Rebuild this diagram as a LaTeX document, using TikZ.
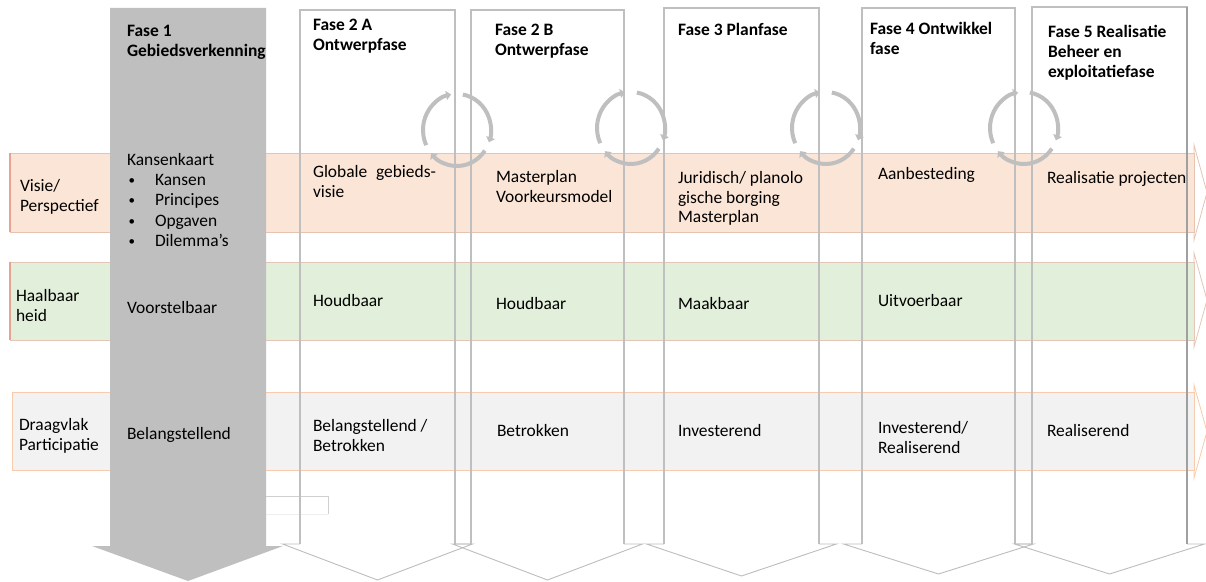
\documentclass[tikz,border=0pt]{standalone}
\usepackage{fontspec}
\setmainfont{Carlito}
\usetikzlibrary{arrows.meta}
\definecolor{phasegray}{HTML}{BFBFBF}
\definecolor{phasedark}{HTML}{A0A0A0}
\definecolor{headgray}{HTML}{BDBDBD}
\definecolor{pinkfill}{HTML}{FBE5D6}
\definecolor{pinkline}{HTML}{E6C4B2}
\definecolor{greenfill}{HTML}{E2EFDA}
\definecolor{greenline}{HTML}{E3C6B6}
\definecolor{grayfill}{HTML}{F2F2F2}
\definecolor{grayline}{HTML}{F8CBAD}
\definecolor{edgered}{HTML}{E6A293}
\definecolor{boxline}{HTML}{D0D0D0}
\definecolor{boxfaint}{HTML}{EEEEEE}
\newcommand{\bul}{\makebox[28bp][l]{\hspace{1.5bp}\raisebox{1bp}{\fontsize{13}{13}\selectfont\textbullet}}}
\tikzset{
  txt/.style={anchor=north west, inner sep=0pt, outer sep=0pt, align=left, text=black,
    font=\fontsize{17.5}{20}\selectfont, execute at begin node=\strut},
  hdr/.style={txt, font=\fontsize{17.5}{20}\selectfont\bfseries},
  phasebody/.style={draw=phasegray, line width=1.3bp},
  phasehead/.style={draw=headgray, line width=0.9bp, line join=miter},
  bandline/.style={line width=0.8bp},
  cyc/.style={draw=phasegray, line width=4bp, -{Triangle[length=5bp,width=9bp]}},
  pics/cyclearrows/.style={code={
    \draw[cyc] (155:34 and 36) arc[start angle=155,end angle=260,x radius=34,y radius=36];
    \draw[cyc] (280:34 and 36) arc[start angle=280,end angle=380,x radius=34,y radius=36];
    \draw[cyc] (35:34 and 36) arc[start angle=35,end angle=140,x radius=34,y radius=36];
  }},
}
\begin{document}
\begin{tikzpicture}[x=1bp,y=-1bp]
\useasboundingbox (0,0) rectangle (1206,582);
\fill[white] (0,0) rectangle (1206,582);

% horizontal bands (right-pointing arrows)
\path[fill=pinkfill, draw=pinkline, bandline] (10,153) rectangle (1194,232);
\draw[pinkline, bandline] (1194,153) -- (1194,145) -- (1207,192.5) -- (1194,240) -- (1194,232);
\draw[edgered, line width=1.2bp] (10,153) -- (10,232);

\path[fill=greenfill, draw=greenline, bandline] (10,262) rectangle (1194,340);
\draw[greenline, bandline] (1194,262) -- (1194,253) -- (1207,300) -- (1194,347) -- (1194,340);
\draw[edgered, line width=1.2bp] (10,262) -- (10,340);

\path[fill=grayfill, draw=grayline, bandline] (12,392) rectangle (1194,470);
\draw[grayline, bandline] (1194,392) -- (1194,385) -- (1207,431.5) -- (1194,478) -- (1194,470);

% small box
\draw[boxfaint, line width=0.8bp] (266,514) -- (328,514);
\draw[boxline, line width=0.8bp] (266,496) -- (328,496) -- (328,514);

% white phase arrows
\foreach \L/\R/\T/\tip in {300/455/10/580, 471/624/10/580, 664/819/8/576, 862/1015/8/574, 1032/1187/7/574} {
  \pgfmathsetmacro\C{(\L+\R)/2}
  \draw[phasehead] (\L,544) -- ({\C-95},544) -- (\C,\tip) -- ({\C+95},544) -- (\R,544);
  \draw[phasebody] (\L,544) -- (\L,\T) -- (\R,\T) -- (\R,544);
}
\draw[phasedark, line width=1.3bp] (1187,7) -- (1187,544);

% phase 1 grey arrow
\fill[phasegray] (110,8) -- (110,546) -- (92,546) -- (188,581) -- (283,546) -- (266,546) -- (266,8) -- cycle;

% cycle arrows
\pic at (457,130) {cyclearrows};
\pic at (631,128) {cyclearrows};
\pic at (826,128) {cyclearrows};
\pic at (1024,128) {cyclearrows};

% headers
\node[hdr] (f1) at (127,25) {Fase 1\\Gebiedsverkenning};
\node[hdr] (f2a) at (313,19) {Fase 2 A\\Ontwerpfase};
\node[hdr] (f2b) at (495,24) {Fase 2 B\\Ontwerpfase};
\node[hdr] (f3) at (678,22) {Fase 3 Planfase};
\node[hdr] (f4) at (870,22) {Fase 4 Ontwikkel\\fase};
\node[hdr] (f5) at (1048,25) {Fase 5 Realisatie\\Beheer en\\exploitatiefase};

% row labels
\node[txt] (visie) at (20,179) {Visie/\\Perspectief};
\node[txt] (haal) at (16,289) {Haalbaar\\heid};
\node[txt] (draag) at (19,418) {Draagvlak\\Participatie};

% phase 1
\node[txt, font=\fontsize{17.5}{20.5}\selectfont] (kans) at (127,153) {Kansenkaart\\\bul Kansen\\\bul Principes\\\bul Opgaven\\\bul Dilemma’s};
\node[txt] (voor) at (127,300) {Voorstelbaar};
\node[txt] (bel1) at (127,426) {Belangstellend};

% phase 2A
\node[txt] (glob) at (313,165) {Globale\hspace{0.5em}gebieds-\\visie};
\node[txt] (houd1) at (313,293) {Houdbaar};
\node[txt] (bel2) at (313,419) {Belangstellend /\\Betrokken};

% phase 2B
\node[txt] (mast) at (496,170) {Masterplan\\Voorkeursmodel};
\node[txt] (houd2) at (496,296) {Houdbaar};
\node[txt] (betr) at (497,423) {Betrokken};

% phase 3
\node[txt] (jur) at (678,171) {Juridisch/ planolo\\gische borging\\Masterplan};
\node[txt] (maak) at (678,296) {Maakbaar};
\node[txt] (inv) at (678,423) {Investerend};

% phase 4
\node[txt] (aanb) at (878,166) {Aanbesteding};
\node[txt] (uitv) at (878,293) {Uitvoerbaar};
\node[txt] (invr) at (878,421) {Investerend/\\Realiserend};

% phase 5
\node[txt] (realp) at (1047,170) {Realisatie projecten};
\node[txt] (real) at (1047,423) {Realiserend};
\end{tikzpicture}
\end{document}
